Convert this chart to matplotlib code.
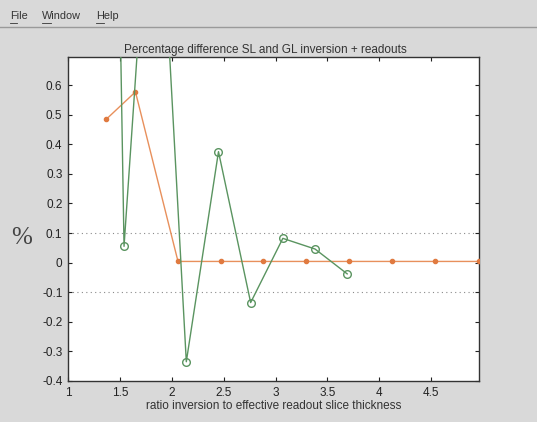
import matplotlib
matplotlib.use("Agg")
import matplotlib.pyplot as plt
from matplotlib.lines import Line2D

# Data
orange_x = [1.37, 1.65, 2.06, 2.47, 2.88, 3.29, 3.71, 4.12, 4.54, 4.96]
orange_y = [0.485, 0.577, 0.004, 0.004, 0.004, 0.004, 0.004, 0.004, 0.004, 0.004]
green_x = [1.23, 1.54, 1.84, 2.14, 2.45, 2.76, 3.07, 3.38, 3.69]
green_y = [6.5, 0.055, 1.6, -0.335, 0.375, -0.135, 0.082, 0.046, -0.038]
x_ticks = [1, 1.5, 2, 2.5, 3, 3.5, 4, 4.5]
y_ticks = [-0.4, -0.3, -0.2, -0.1, 0, 0.1, 0.2, 0.3, 0.4, 0.5, 0.6]
threshold_levels = [0.1, -0.1]

plt.rcParams['font.family'] = ['Liberation Sans', 'DejaVu Sans']

bg = '#d9d9d9'
fig = plt.figure(figsize=(5.37, 4.22), dpi=100, facecolor=bg)
ax = fig.add_axes([0.1266, 0.0972, 0.7654, 0.7678])
ax.set_facecolor('white')

for lv in threshold_levels:
    ax.axhline(lv, color='#8a8a8a', linestyle=(0, (1, 3)), linewidth=0.8, zorder=1)

ax.plot(orange_x, orange_y, color='#e8905c', linewidth=1.0, marker='o',
        markersize=3, markerfacecolor='#e07a40', markeredgecolor='#e07a40', zorder=3)
ax.plot(green_x, green_y, color='#5a9460', linewidth=1.0, marker='o',
        markersize=5.5, markerfacecolor='none', markeredgecolor='#5a9460',
        markeredgewidth=1.0, zorder=4)

ax.set_xlim(1, 4.96)
ax.set_ylim(-0.4, 0.695)
ax.set_xticks(x_ticks)
ax.set_xticklabels(['1', '1.5', '2', '2.5', '3', '3.5', '4', '4.5'])
ax.set_yticks(y_ticks)
ax.set_yticklabels(['-0.4', '-0.3', '-0.2', '-0.1', '0', '0.1', '0.2', '0.3', '0.4', '0.5', '0.6'])
ax.tick_params(direction='in', top=True, right=True, length=3, width=0.8,
               labelsize=8.5, colors='#222222', pad=4)
for s in ax.spines.values():
    s.set_color('#333333')
    s.set_linewidth(1.0)

ax.set_title('Percentage difference SL and GL inversion + readouts',
             fontsize=8.5, color='#333333', pad=3, x=0.48)
ax.set_xlabel('ratio inversion to effective readout slice thickness',
              fontsize=8.5, color='#333333', labelpad=1)

fig.text(0.041, 0.435, '%', fontsize=18, family=['Liberation Serif', 'DejaVu Serif'],
         color='#444444', ha='center', va='center')

# Window menu bar
fig.text(0.019, 0.963, 'File', fontsize=7.8, color='#333333', va='center')
fig.text(0.078, 0.963, 'Window', fontsize=7.8, color='#333333', va='center')
fig.text(0.179, 0.963, 'Help', fontsize=7.8, color='#333333', va='center')
for x0, x1 in [(0.019, 0.031), (0.078, 0.095), (0.179, 0.193)]:
    fig.add_artist(Line2D([x0, x1], [0.946, 0.946], color='#333333', linewidth=0.6))
fig.add_artist(Line2D([0, 1], [0.936, 0.936], color='#9a9a9a', linewidth=1.0))

fig.savefig('out.png', dpi=100, facecolor=bg)
